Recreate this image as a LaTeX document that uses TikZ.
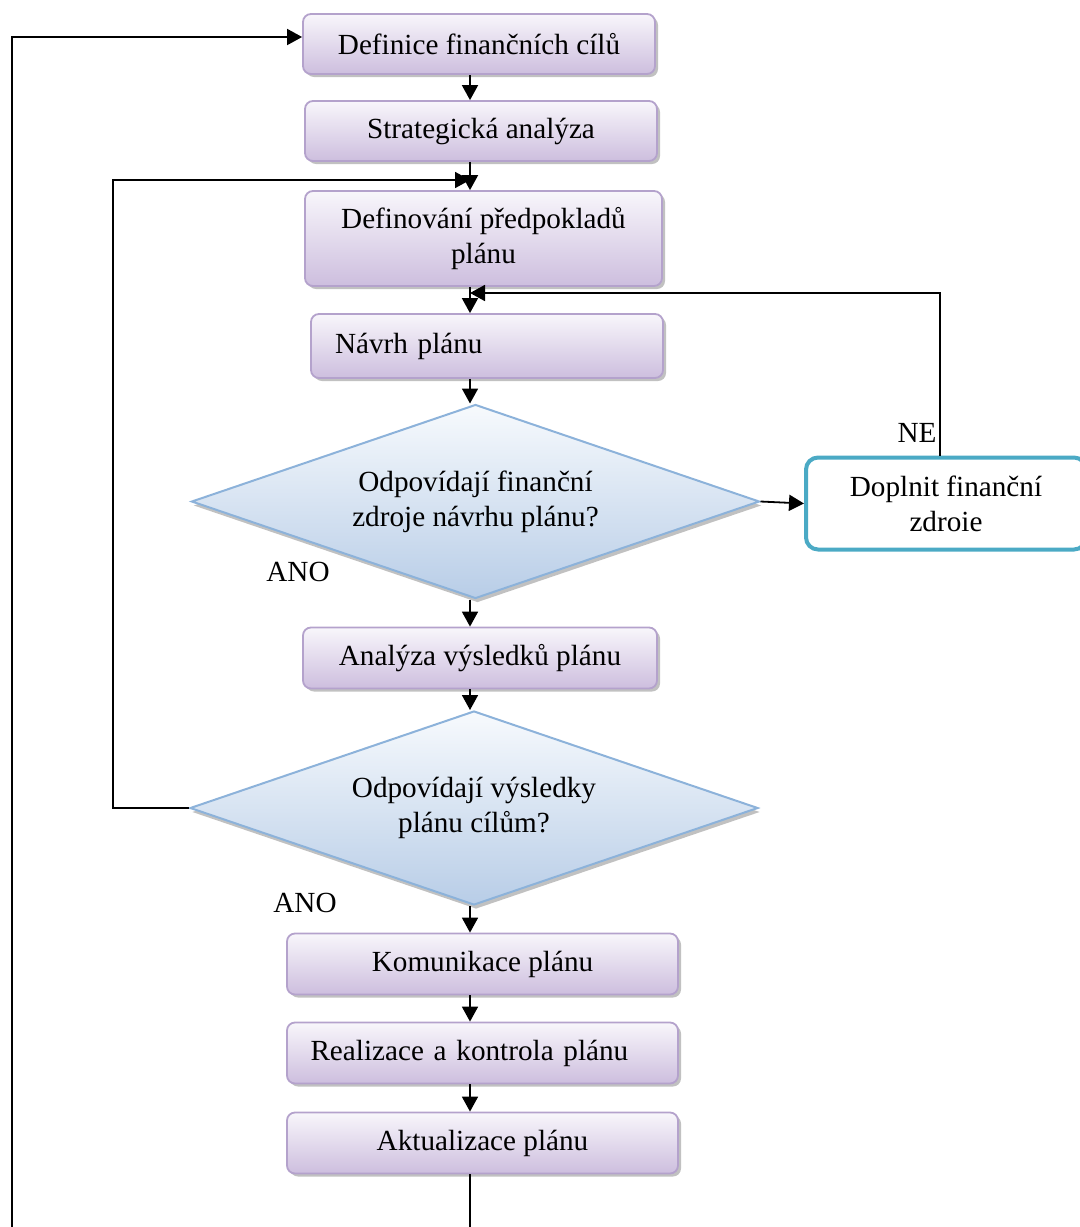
\documentclass[tikz,border=0pt]{standalone}
\usepackage{fontspec}
\setmainfont{Liberation Serif}
\usetikzlibrary{shapes.geometric,arrows.meta,shadows}
\definecolor{boxline}{RGB}{180,162,204}
\definecolor{boxtop}{RGB}{248,246,251}
\definecolor{boxbot}{RGB}{205,190,222}
\definecolor{dialine}{RGB}{140,178,218}
\definecolor{diatop}{RGB}{247,250,253}
\definecolor{diabot}{RGB}{184,205,231}
\definecolor{tealline}{RGB}{75,170,197}
\begin{document}
\begin{tikzpicture}
          [x=0.5pt,y=-0.5pt,every node/.style={font=\fontsize{14.6}{17.5}\selectfont, align=center, inner sep=0pt},
           stepbox/.style={draw=boxline, line width=0.9pt, rounded corners=4pt, top color=boxtop, bottom color=boxbot,
             minimum width=176pt, minimum height=30pt,
             drop shadow={shadow xshift=1.5pt, shadow yshift=-1.5pt, fill=gray!60, opacity=.8}},
           decbox/.style={diamond, aspect=2.93, draw=dialine, line width=1pt, top color=diatop, bottom color=diabot,
             minimum width=284pt, minimum height=97pt,
             drop shadow={shadow xshift=1pt, shadow yshift=-2pt, fill=gray!60, opacity=.8}},
           arr/.style={draw, line width=0.9pt, -{Triangle[length=7.5pt,width=8pt]}}]
        \useasboundingbox (0,0) rectangle (1080,1227);
        \clip (0,0) rectangle (1080,1227);
        \coordinate (ax) at (470,0);
        \node[stepbox] (dfc) at (479,44) {Definice finančních cílů};
        \node[stepbox] (sa) at (481,131) {Strategická analýza};
        \node[stepbox, minimum width=178.5pt, minimum height=47.5pt] (dpp) at (483.5,238.5) {Definování předpokladů \\ plánu};
        \node[stepbox, minimum height=32pt, text width=152pt, align=left] (np) at (487,346) {Návrh plánu};
        \node[decbox] (d1) at (475.5,501.5) {Odpovídají finanční \\ zdroje návrhu plánu?};
        \node[draw=tealline, line width=2pt, rounded corners=6pt, fill=white, minimum width=140pt, minimum height=46pt] (dfz) at (946,503.5) {Doplnit finanční \\ zdroie};
        \node[stepbox, minimum width=177pt, minimum height=30.5pt] (avp) at (480,658) {Analýza výsledků plánu};
        \node[decbox] (d2) at (474,808) {Odpovídají výsledky \\ plánu cílům?};
        \node[stepbox, minimum width=195.5pt, minimum height=30.5pt] (kp) at (482.5,964) {Komunikace plánu};
        \node[stepbox, minimum width=195.5pt, minimum height=30.5pt, text width=172pt, align=left] (rkp) at (482.5,1053) {Realizace a kontrola plánu};
        \node[stepbox, minimum width=195.5pt, minimum height=30.5pt] (ap) at (482.5,1143) {Aktualizace plánu};
        \node (ne) at (917,433) {NE};
        \node (ano1) at (298,572) {ANO};
        \node (ano2) at (305,903) {ANO};

        \coordinate (j1) at (470,180);
        \coordinate (j2) at (470,293);
        \coordinate (b0) at (12,1260);

      \foreach \from/\to in {dfc/sa, sa/dpp, dpp/np, np/d1, d1/avp, avp/d2, d2/kp, kp/rkp, rkp/ap}
        \draw[arr] (\from.south -| ax) -- (\to.north -| ax);
      \draw[arr] (d1.east) -- (dfz.west);
      \draw[arr] ([xshift=-3pt]dfz.north) |- (j2);
      \draw[arr] (d2.west) -| (113,180) -- (j1);
      \draw[arr] (ap.south -| ax) |- (b0) |- ([yshift=3.5pt]dfc.west);
      \end{tikzpicture}
\end{document}
